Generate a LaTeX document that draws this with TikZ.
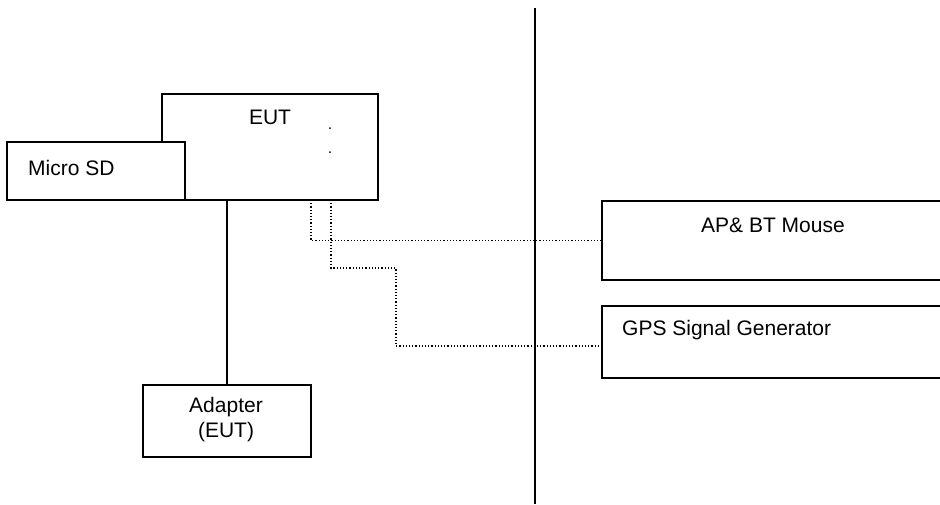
\documentclass[tikz,border=0pt]{standalone}
\usepackage{fontspec}
\setmainfont{Liberation Sans}
\begin{document}
\begin{tikzpicture}[x=1pt,y=-1pt,
  box/.style={draw=black,line width=1.8pt,fill=white,inner sep=0pt},
  lbl/.style={inner sep=0pt,font=\fontsize{21}{25}\selectfont},
  wire/.style={line width=1.6pt},
  dotwire/.style={line width=1.5pt,dash pattern=on 1.2pt off 2pt}]
\useasboundingbox (0,0) rectangle (940,504);
\clip (0,0) rectangle (940,504);
% EUT and Micro SD
\node[box,minimum width=216pt,minimum height=106pt] (eut) at (270,147) {};
\node[lbl] (euttext) at (270,117) {EUT};
\node[box,minimum width=178pt,minimum height=58pt] (sd) at (96,171) {};
\node[lbl,anchor=west] (sdtext) at (28,168) {Micro SD};
\fill (330,128) circle (1pt);
\fill (330,152) circle (1pt);
% Adapter
\node[box,minimum width=168pt,minimum height=72pt] (adapter) at (227,421) {};
\node[lbl,align=center] (adtext) at (226,420) {Adapter\\(EUT)};
% Right boxes
\node[box,minimum width=360pt,minimum height=79pt] (ap) at (782,240.5) {};
\node[lbl] (aptext) at (773,225) {AP\& BT Mouse};
\node[box,minimum width=360pt,minimum height=72pt] (gps) at (782,342) {};
\node[lbl,anchor=west] (gpstext) at (622,330) {GPS Signal Generator};
% divider
\coordinate (dtop) at (535,8);
\coordinate (dbot) at (535,504);
\draw[wire] (dtop) -- (dbot);
% connectors
\draw[wire] (adapter.north |- eut.south) -- (adapter.north);
\coordinate (p1) at (311,200);
\coordinate (p2) at (331,200);
\draw[dotwire] (p1) |- (ap.west);
\draw[dotwire] (p2) -- (331,268) -- (396,268) -- (396,346) -- (gps.west |- 0,346);
\end{tikzpicture}
\end{document}
